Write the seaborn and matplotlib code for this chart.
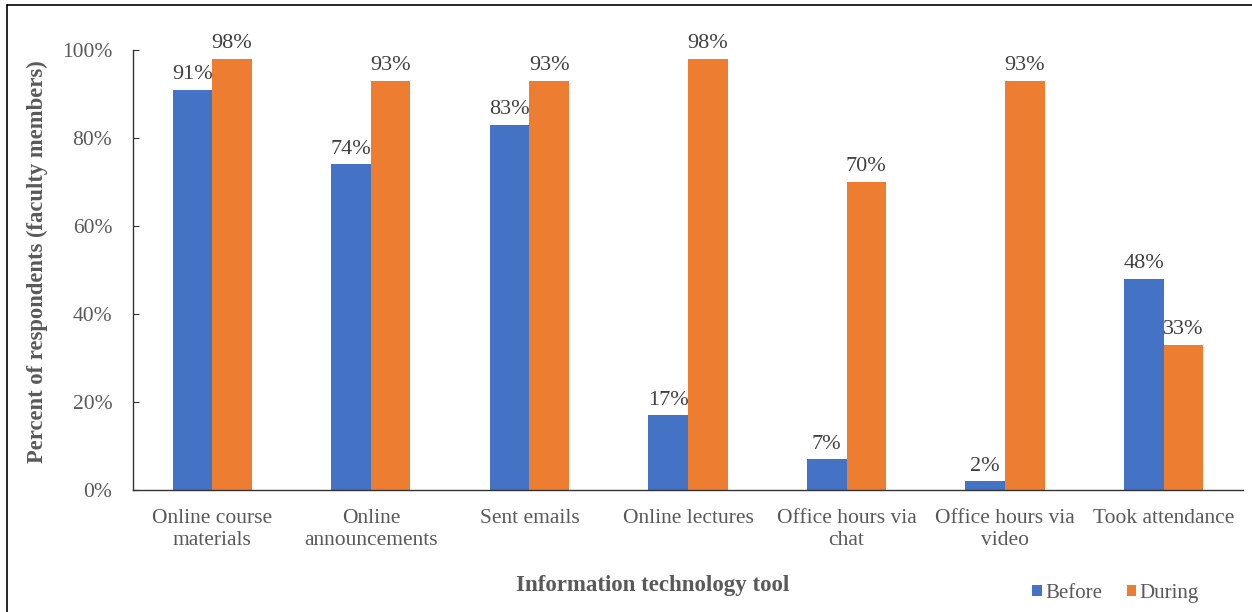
import matplotlib
matplotlib.use("Agg")
import matplotlib.pyplot as plt
import matplotlib.lines as mlines
import seaborn as sns
import pandas as pd

categories = [
    "Online course\nmaterials",
    "Online\nannouncements",
    "Sent emails",
    "Online lectures",
    "Office hours via\nchat",
    "Office hours via\nvideo",
    "Took attendance",
]
before = [91, 74, 83, 17, 7, 2, 48]
during = [98, 93, 93, 98, 70, 93, 33]
series_names = ["Before", "During"]
colors = ["#4472C4", "#ED7D31"]

df = pd.DataFrame({
    "tool": categories * 2,
    "period": [series_names[0]] * len(categories) + [series_names[1]] * len(categories),
    "value": before + during,
})

sns.set_theme(style="white")
plt.rcParams["font.family"] = ["Liberation Serif", "DejaVu Serif"]
text_color = "#595959"

fig = plt.figure(figsize=(12.52, 6.12), dpi=100)
ax = fig.add_axes([0.1062, 0.1993, 0.8866, 0.7190])

sns.barplot(data=df, x="tool", y="value", hue="period", order=categories,
            hue_order=series_names, palette=colors, width=0.5, gap=0,
            saturation=1, linewidth=0, ax=ax, legend=True)

# value labels above each bar
for cont in ax.containers:
    ax.bar_label(cont, labels=[f"{v:.0f}%" for v in cont.datavalues],
                 padding=4, fontsize=16, color="#404040")

ax.set_ylim(0, 100)
ax.set_xlim(-0.5, len(categories) - 0.5)
ax.set_yticks(range(0, 101, 20))
ax.set_yticklabels([f"{t}%" for t in range(0, 101, 20)], fontsize=15.5, color=text_color)
ax.tick_params(axis="y", direction="in", length=4, width=0.8, color="#333333", pad=15, left=True)
ax.tick_params(axis="x", length=0, pad=14, labelsize=15.5, labelcolor=text_color)
for lbl in ax.get_xticklabels():
    lbl.set_linespacing(1.2)

for side in ["top", "right"]:
    ax.spines[side].set_visible(False)
for side in ["left", "bottom"]:
    ax.spines[side].set_color("#333333")
    ax.spines[side].set_linewidth(1.0)

ax.set_xlabel("")
ax.set_ylabel("")
fig.text(0.521, 0.043, "Information technology tool", ha="center", va="center",
         fontsize=16.5, fontweight="bold", color=text_color)
fig.text(0.030, 0.573, "Percent of respondents (faculty members)", ha="center", va="center",
         rotation=90, fontsize=16.3, fontweight="bold", color=text_color)

handles, labels = ax.get_legend_handles_labels()
ax.legend_.remove()
fig.legend(handles, labels, loc="center", bbox_to_anchor=(0.891, 0.030), ncol=2,
           frameon=False, fontsize=15, handlelength=0.45, handleheight=0.45,
           handletextpad=0.15, columnspacing=1.2, labelcolor=text_color)

# outer frame along the top and left edges
fig.add_artist(mlines.Line2D([7 / 1252, 1.0], [1 - 5 / 612, 1 - 5 / 612],
                             transform=fig.transFigure, color="black", lw=1.2))
fig.add_artist(mlines.Line2D([7 / 1252, 7 / 1252], [0.0, 1 - 5 / 612],
                             transform=fig.transFigure, color="black", lw=1.2))

fig.savefig("out.png", dpi=100, facecolor="white")
